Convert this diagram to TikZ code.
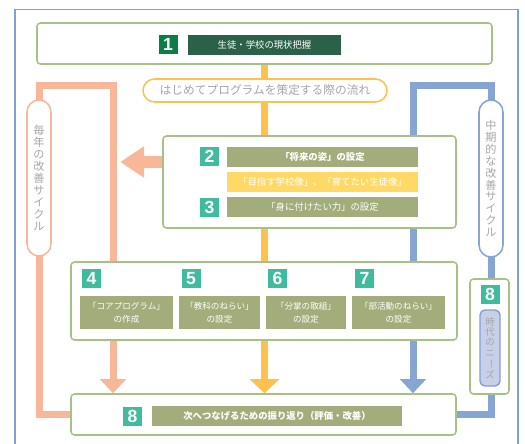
\documentclass[tikz,border=0pt]{standalone}
\usepackage{fontspec}
\setmainfont{Noto Sans CJK JP}
\newfontfamily\numfont{Liberation Sans}
\usetikzlibrary{positioning,arrows.meta,backgrounds}
\definecolor{frameblue}{HTML}{7FA0D4}
\definecolor{leaf}{HTML}{A6C184}
\definecolor{olivetag}{HTML}{A3AD7B}
\definecolor{pinegreen}{HTML}{2B6049}
\definecolor{deepgreen}{HTML}{0B7D46}
\definecolor{teal}{HTML}{3FBC9E}
\definecolor{butter}{HTML}{FFD966}
\definecolor{salmon}{HTML}{F9B79A}
\definecolor{amber}{HTML}{FFC14D}
\definecolor{cycleblue}{HTML}{87A5D3}
\definecolor{needsfill}{HTML}{C7D0E8}
\definecolor{softgrey}{HTML}{A6A6A6}
\def\px{0.03cm}
\newcommand{\tagfont}{\fontsize{8}{10}\selectfont}

\tikzset{
  stage/.style={draw=leaf, line width=1.3pt, rounded corners=3pt, fill=white, inner sep=0pt},
  numbox/.style={fill=teal, text=white, inner sep=0pt, minimum width=19*\px, minimum height=19*\px,
    font=\numfont\bfseries\fontsize{15}{15}\selectfont},
  tagbox/.style={fill=olivetag, text=white, inner sep=0pt, minimum height=20*\px, font=\tagfont},
  pairbox/.style={tagbox, minimum height=33*\px, align=center, font=\fontsize{7.3}{11}\selectfont},
  cyclepill/.style={fill=white, line width=1.3pt, inner sep=0pt, minimum width=24*\px,
    rounded corners=12*\px, align=center, text=softgrey, font=\fontsize{9.5}{10.2}\selectfont},
  flow/.style={line width=7*\px},
}

\begin{document}
\begin{tikzpicture}[x=\px, y=-\px, font=\tagfont]
  \useasboundingbox (0,0) rectangle (525,444);
  \draw[frameblue, line width=1.2pt] (15,9.5) rectangle (518,470);

  % step 1
  \node[stage, minimum width=455*\px, minimum height=41*\px] (s1) at (264.5,43.5) {};
  \node[numbox, fill=deepgreen] (n1) at (168,44.5) {1};
  \node[tagbox, fill=pinegreen, minimum width=153*\px] (t1) at (264.5,44.5) {生徒・学校の現状把握};

  \node[draw=amber, line width=1.3pt, fill=white, rounded corners=11.5*\px, minimum width=244*\px,
    minimum height=23*\px, inner sep=0pt, text=softgrey, font=\fontsize{10}{12}\selectfont]
    (start) at (265,90.5) {はじめてプログラムを策定する際の流れ};

  % steps 2 and 3
  \node[stage, minimum width=293*\px, minimum height=92*\px] (s23) at (309.5,182) {};
  \node[numbox] (n2) at (209.5,156.5) {2};
  \node[tagbox, minimum width=191*\px, font=\tagfont\bfseries] (t2) at (322.5,157) {「将来の姿」の設定};
  \node[tagbox, fill=butter, minimum width=191*\px] (goal) at (322.5,182) {「目指す学校像」、「育てたい生徒像」};
  \node[numbox] (n3) at (209.5,207) {3};
  \node[tagbox, minimum width=191*\px] (t3) at (322.5,207) {「身に付けたい力」の設定};

  % steps 4 to 7
  \node[stage, minimum width=386*\px, minimum height=78*\px] (s47) at (264,301) {};
  \node[numbox] (n4) at (91.5,278.5) {4};
  \node[numbox] (n5) at (191,278.5) {5};
  \node[numbox] (n6) at (277.5,278.5) {6};
  \node[numbox] (n7) at (364.5,278.5) {7};
  \node[pairbox, minimum width=93*\px] (t4) at (126.5,312.5) {「コアプログラム」\\の作成};
  \node[pairbox, minimum width=81*\px] (t5) at (219.5,312.5) {「教科のねらい」\\の設定};
  \node[pairbox, minimum width=80*\px] (t6) at (306,312.5) {「分掌の取組」\\の設定};
  \node[pairbox, minimum width=93*\px] (t7) at (398.5,312.5) {「部活動のねらい」\\の設定};

  % step 8
  \node[stage, minimum width=385*\px, minimum height=41*\px] (s8) at (263.5,414.5) {};
  \node[numbox] (n8) at (132.5,416) {8};
  \node[tagbox, minimum width=250*\px, font=\tagfont\bfseries] (t8) at (277,416) {次へつなげるための振り返り（評価・改善）};

  \node[stage, minimum width=39*\px, minimum height=115*\px] (needs) at (489.5,336.5) {};
  \node[numbox] (n8b) at (490,294.5) {8};
  \node[draw=frameblue, fill=needsfill, line width=1.2pt, rounded corners=5*\px, inner sep=0pt,
    minimum width=20*\px, minimum height=76*\px, align=center, text=softgrey,
    font=\fontsize{8}{8.8}\selectfont] (era) at (490,348)
    {時\\代\\の\\ニ\\\rotatebox[origin=c]{-90}{ー}\\ズ};

  \node[cyclepill, draw=salmon, minimum height=156*\px] (yearly) at (39,178)
    {毎\\年\\の\\改\\善\\サ\\イ\\ク\\ル};
  \node[cyclepill, draw=cycleblue, minimum height=157*\px] (midterm) at (491,178.5)
    {中\\期\\的\\な\\改\\善\\サ\\イ\\ク\\ル};

  \coordinate (ytop) at (39,85);
  \coordinate (yturn) at (113,85);
  \coordinate (btop) at (491,85);
  \coordinate (bturn) at (413,85);

  \begin{scope}[on background layer]
    \draw[flow, amber, -{Triangle[width=0.87cm, length=0.42cm]}] (s1.south) -- (s1.south |- s8.north);
    \draw[flow, salmon, -{Triangle[width=0.76cm, length=0.42cm]}]
      (s8.west) -| (ytop) -- (yturn) -- (yturn |- s8.north);
    \draw[flow, cycleblue, -{Triangle[width=0.76cm, length=0.42cm]}]
      (s8.east) -| (btop) -- (bturn) -- (bturn |- s8.north);
  \end{scope}
  \draw[salmon, line width=12*\px, -{Triangle[width=0.9cm, length=0.72cm]}]
    (s23.west |- 0,162) -- ++(-42,0);
\end{tikzpicture}
\end{document}
